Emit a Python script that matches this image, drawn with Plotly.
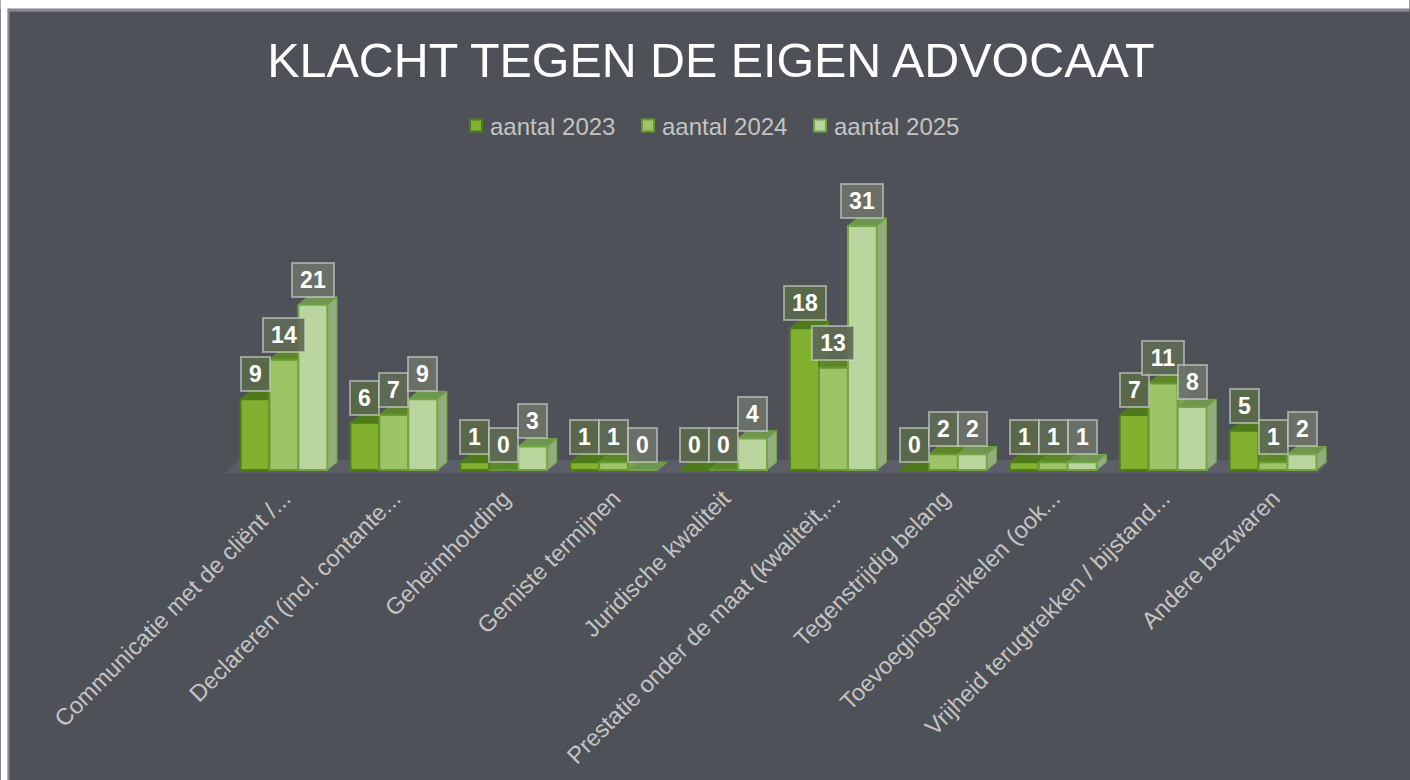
import plotly.graph_objects as go

categories = ["Communicatie met de cliënt /...", "Declareren (incl. contante...", "Geheimhouding",
              "Gemiste termijnen", "Juridische kwaliteit", "Prestatie onder de maat (kwaliteit,...",
              "Tegenstrijdig belang", "Toevoegingsperikelen (ook...", "Vrijheid terugtrekken / bijstand...",
              "Andere bezwaren"]
aantal_2023 = [9, 6, 1, 1, 0, 18, 0, 1, 7, 5]
aantal_2024 = [14, 7, 0, 1, 0, 13, 2, 1, 11, 1]
aantal_2025 = [21, 9, 3, 0, 4, 31, 2, 1, 8, 2]
series_names = ["aantal 2023", "aantal 2024", "aantal 2025"]
series_values = [aantal_2023, aantal_2024, aantal_2025]
front_colors = ["#82b12f", "#9dc568", "#bbd59f"]
line_colors = ["#4f7c1a", "#68982f", "#74a544"]
top_colors = ["#4f7a1c", "#5c8728", "#6f9650"]
side_colors = ["#5f8a2a", "#7fa455", "#93ad7f"]
label_fills = ["rgba(90,106,74,0.92)", "rgba(95,107,85,0.92)", "rgba(109,114,105,0.92)"]

BG = "#4e5157"
W, H = 1410, 780
UNIT_X = 110.0
PX_UNIT = 7.87
BASE = 470
XMIN, XMAX = -0.6, 9.7
YMIN, YMAX = -1, 40
PL = 283.5 + (XMIN) * UNIT_X
PR = 283.5 + (XMAX) * UNIT_X
PB = BASE - YMIN * PX_UNIT
PT = BASE - YMAX * PX_UNIT
GAP = 0.21
BW = (1 - GAP) / 3
DX, DY = 0.088, 1.0

fig = go.Figure()
idx = list(range(len(categories)))

# floor of the 3D chart
fig.add_trace(go.Scatter(x=[-0.53, 9.40, 9.52, -0.41, -0.53], y=[-0.4, -0.4, 1.3, 1.3, -0.4],
                         mode="lines", fill="toself", fillcolor="#5b5d69", line=dict(width=0),
                         showlegend=False, hoverinfo="skip", cliponaxis=False))

# depth faces
for s, vals in enumerate(series_values):
    for i, v in zip(idx, vals):
        l = i - 1.5 * BW + s * BW
        r = l + BW
        fig.add_trace(go.Scatter(x=[r, r + DX, r + DX, r, r], y=[0, DY, v + DY, v, 0], mode="lines",
                                 fill="toself", fillcolor=side_colors[s],
                                 line=dict(width=1, color=line_colors[s]),
                                 showlegend=False, hoverinfo="skip", cliponaxis=False))
        fig.add_trace(go.Scatter(x=[l, l + DX, r + DX, r, l], y=[v, v + DY, v + DY, v, v], mode="lines",
                                 fill="toself", fillcolor=top_colors[s],
                                 line=dict(width=1, color=line_colors[s]),
                                 showlegend=False, hoverinfo="skip", cliponaxis=False))

# front faces, on an overlaid y axis so that they sit above the depth faces
for s, vals in enumerate(series_values):
    fig.add_trace(go.Bar(x=idx, y=vals, name=series_names[s], yaxis="y2",
                         marker=dict(color=front_colors[s], line=dict(color=line_colors[s], width=2)),
                         cliponaxis=False))

# value labels
annotations = []
for s, vals in enumerate(series_values):
    for i, v in zip(idx, vals):
        annotations.append(dict(x=i - BW + s * BW, y=v, xref="x", yref="y", text=f"<b>{v}</b>", showarrow=False,
                                xanchor="center", yanchor="bottom", yshift=7, width=(40 if v > 9 else 27), height=32,
                                font=dict(family="Liberation Sans", size=23, color="#ffffff"),
                                bgcolor=label_fills[s], bordercolor="rgba(205,210,205,0.6)", borderwidth=2,
                                borderpad=0))

def px_x(p):
    return (p - PL) / (PR - PL)

def px_y(p):
    return (PB - p) / (PB - PT)

shapes = [
    dict(type="rect", xref="paper", yref="paper", x0=px_x(0), x1=px_x(7), y0=px_y(0), y1=px_y(780),
         fillcolor="#ffffff", line=dict(width=0), layer="below"),
    dict(type="rect", xref="paper", yref="paper", x0=px_x(0), x1=px_x(1410), y0=px_y(0), y1=px_y(9),
         fillcolor="#ffffff", line=dict(width=0), layer="below"),
    dict(type="rect", xref="paper", yref="paper", x0=px_x(7), x1=px_x(9), y0=px_y(9), y1=px_y(780),
         fillcolor="#85888c", line=dict(width=0), layer="below"),
    dict(type="rect", xref="paper", yref="paper", x0=px_x(7), x1=px_x(1410), y0=px_y(9), y1=px_y(12),
         fillcolor="#85888c", line=dict(width=0), layer="below"),
]

fig.update_layout(
    width=W, height=H, paper_bgcolor=BG, plot_bgcolor="rgba(0,0,0,0)",
    margin=dict(l=PL, r=W - PR, t=PT, b=H - PB, pad=0, autoexpand=False),
    barmode="group", bargap=GAP, bargroupgap=0,
    font=dict(family="Liberation Sans", color="#c4c4c4"),
    title=dict(text="KLACHT TEGEN DE EIGEN ADVOCAAT", x=711 / W, xanchor="center", y=1 - 60 / H, yanchor="middle",
               font=dict(family="Liberation Sans", size=48.4, color="#ffffff")),
    legend=dict(orientation="h", xref="container", yref="container", x=708 / W, xanchor="center",
                y=1 - 126 / H, yanchor="middle", font=dict(size=24, color="#c4c4c4"),
                entrywidth=127, entrywidthmode="pixels", bgcolor="rgba(0,0,0,0)"),
    xaxis=dict(type="linear", range=[XMIN, XMAX], tickmode="array", tickvals=idx, ticktext=categories,
               tickangle=-45, tickfont=dict(family="Liberation Sans", size=23.5, color="#c4c4c4"),
               showgrid=False, zeroline=False, showline=False, ticks="", ticklabelstandoff=1, automargin=False),
    yaxis=dict(range=[YMIN, YMAX], visible=False, showgrid=False, zeroline=False, automargin=False),
    yaxis2=dict(range=[YMIN, YMAX], visible=False, showgrid=False, zeroline=False, overlaying="y", side="left", automargin=False),
    annotations=annotations, shapes=shapes,
)

fig.write_html("out.html", config={"displayModeBar": False},
               post_script="document.body.style.margin='0';document.documentElement.style.overflow='hidden';"
                           "document.querySelectorAll('.legendsymbols').forEach(function(e){e.setAttribute('transform','translate(6,0)');});")
